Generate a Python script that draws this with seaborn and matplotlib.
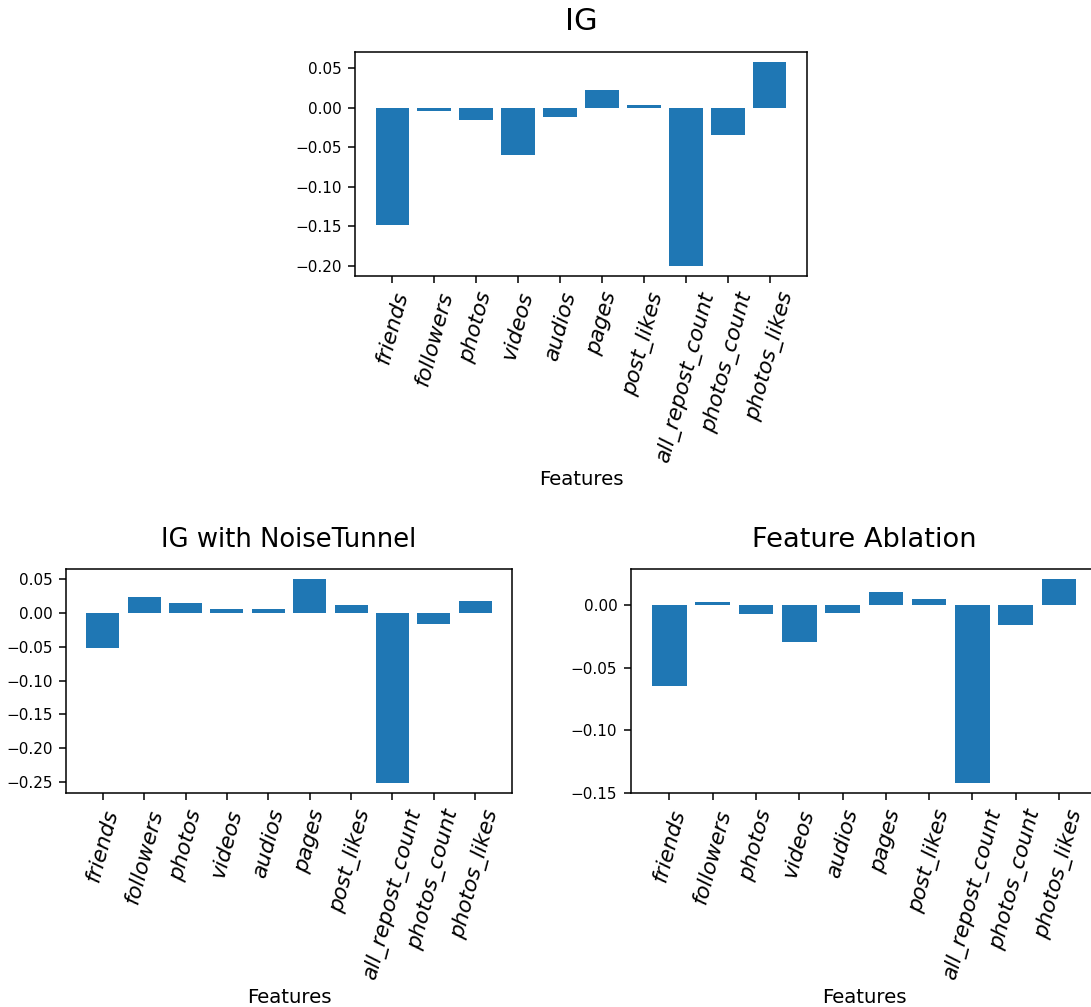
# Attribution bar charts: IG, IG with NoiseTunnel, Feature Ablation

import pandas as pd
import matplotlib
matplotlib.use("Agg")
import matplotlib.pyplot as plt
import seaborn as sns

# data
features = ["friends", "followers", "photos", "videos", "audios", "pages",
            "post_likes", "all_repost_count", "photos_count", "photos_likes"]

ig_values = [-0.148, -0.0043, -0.016, -0.0596, -0.0118, 0.0226,
             0.0037, -0.1997, -0.0349, 0.0574]

ig_nt_values = [-0.0512, 0.0237, 0.0144, 0.0059, 0.006, 0.0499,
                0.0124, -0.2516, -0.0167, 0.0178]

ablation_values = [-0.0646, 0.0024, -0.0072, -0.029, -0.0061, 0.0109,
                   0.0053, -0.142, -0.0157, 0.0207]

plt.rcParams["xtick.major.size"] = 4.8
plt.rcParams["ytick.major.size"] = 4.8
plt.rcParams["xtick.major.pad"] = 5
plt.rcParams["ytick.major.pad"] = 4.8
plt.rcParams["axes.linewidth"] = 1.1
plt.rcParams["xtick.major.width"] = 1.1
plt.rcParams["ytick.major.width"] = 1.1

fig = plt.figure(figsize=(10.91, 10.07), dpi=100)

ax_top = fig.add_axes([0.3254, 0.7259, 0.4143, 0.2224])
ax_bl = fig.add_axes([0.0605, 0.2122, 0.4088, 0.2227])
ax_br = fig.add_axes([0.5781, 0.2122, 0.4280, 0.2227])


def draw(ax, values, title, title_size):
    df = pd.DataFrame({"feature": features, "value": values})
    sns.barplot(data=df, x="feature", y="value", order=features, ax=ax,
                color="#1f77b4", saturation=1, width=0.8, linewidth=0)
    ax.set_xlim(-0.89, 9.89)
    lo = min(min(values), 0)
    hi = max(max(values), 0)
    m = (hi - lo) * 0.05
    ax.set_ylim(lo - m, hi + m)
    ax.set_title(title, fontsize=title_size, pad=16)
    ax.set_xlabel("Features", fontsize=14.2, labelpad=4)
    ax.set_ylabel("")
    ax.tick_params(axis="y", labelsize=11)
    plt.setp(ax.get_xticklabels(), rotation=75, fontsize=15.5, style="italic")


draw(ax_top, ig_values, "IG", 22)
draw(ax_bl, ig_nt_values, "IG with NoiseTunnel", 18.6)
draw(ax_br, ablation_values, "Feature Ablation", 19.6)

ax_top.set_yticks([0.05, 0.0, -0.05, -0.10, -0.15, -0.20])
ax_bl.set_yticks([0.05, 0.0, -0.05, -0.10, -0.15, -0.20, -0.25])
ax_br.set_yticks([0.0, -0.05, -0.10, -0.15])

fig.savefig("out.png", dpi=100)
plt.close()
